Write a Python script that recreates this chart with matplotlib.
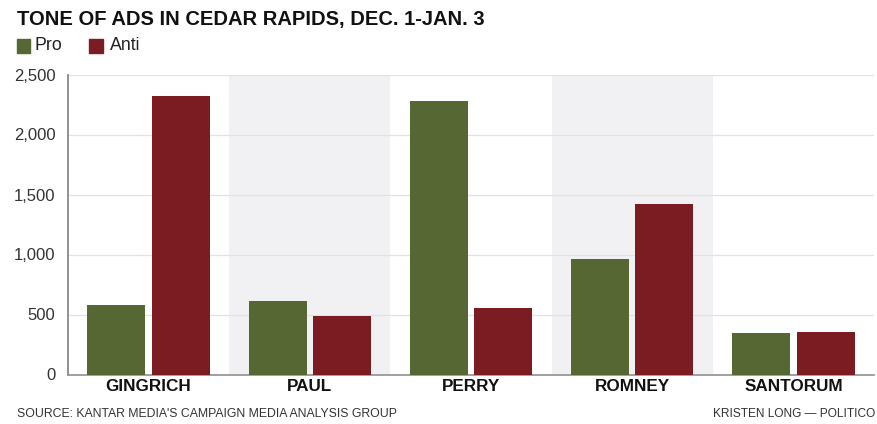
import matplotlib
matplotlib.use("Agg")
import matplotlib.pyplot as plt
from matplotlib.patches import Rectangle
from matplotlib import font_manager
import numpy as np

candidates = ["GINGRICH", "PAUL", "PERRY", "ROMNEY", "SANTORUM"]
pro = [579, 615, 2279, 965, 343]
anti = [2321, 490, 554, 1418, 357]
yticks = [0, 500, 1000, 1500, 2000, 2500]
ytick_labels = ["0", "500", "1,000", "1,500", "2,000", "2,500"]

GREEN = "#566733"
RED = "#7b1c22"

names = {f.name for f in font_manager.fontManager.ttflist}
narrow = "Liberation Sans Narrow" if "Liberation Sans Narrow" in names else "Liberation Sans"
plt.rcParams["font.family"] = ["Liberation Sans", "DejaVu Sans"]

W, H = 877, 424
fig = plt.figure(figsize=(W / 100, H / 100), dpi=100)
ax = fig.add_axes([68 / W, 49.5 / H, (874 - 68) / W, 300 / H])

x = np.arange(len(candidates))
bw = 0.36
ax.set_xlim(-0.5, len(candidates) - 0.5)
ax.set_ylim(0, 2500)

for i in range(len(candidates)):
    if i % 2 == 1:
        ax.axvspan(i - 0.5, i + 0.5, color="#f1f1f4", zorder=0, lw=0)

ax.bar(x - 0.2, pro, bw, color=GREEN, zorder=3)
ax.bar(x + 0.2, anti, bw, color=RED, zorder=3)

ax.set_yticks(yticks)
ax.set_yticklabels(ytick_labels, fontsize=12, color="#333333")
ax.yaxis.grid(True, color="#e2e2e2", lw=0.9, zorder=1)
ax.set_axisbelow(True)
ax.tick_params(axis="y", length=0, pad=9)
ax.set_xticks(x)
ax.set_xticklabels(candidates, fontsize=12.3, fontweight="bold", color="#111111")
ax.tick_params(axis="x", length=0, pad=3)

for s in ["top", "right"]:
    ax.spines[s].set_visible(False)
ax.spines["left"].set_color("#888888")
ax.spines["left"].set_linewidth(1.3)
ax.spines["bottom"].set_color("#999999")
ax.spines["bottom"].set_linewidth(1.3)

fig.text(17 / W, 1 - 19 / H, "TONE OF ADS IN CEDAR RAPIDS, DEC. 1-JAN. 3",
         fontsize=14.5, fontweight="bold", color="#111111", va="center", ha="left")

fig.patches.append(Rectangle((17 / W, 1 - 53 / H), 13 / W, 14 / H,
                             transform=fig.transFigure, color=GREEN))
fig.text(35 / W, 1 - 46 / H, "Pro", fontsize=12.8, color="#222222", va="center", ha="left")
fig.patches.append(Rectangle((89 / W, 1 - 53 / H), 14 / W, 14 / H,
                             transform=fig.transFigure, color=RED))
fig.text(110 / W, 1 - 46 / H, "Anti", fontsize=12.8, color="#222222", va="center", ha="left")

fig.text(17 / W, 1 - 414 / H, "SOURCE: KANTAR MEDIA'S CAMPAIGN MEDIA ANALYSIS GROUP",
         fontsize=8.8, family=narrow, color="#333333", va="center", ha="left")
fig.text(875 / W, 1 - 414 / H, "KRISTEN LONG \u2014 POLITICO",
         fontsize=8.6, family=narrow, color="#333333", va="center", ha="right")

fig.savefig("out.png", dpi=100)
